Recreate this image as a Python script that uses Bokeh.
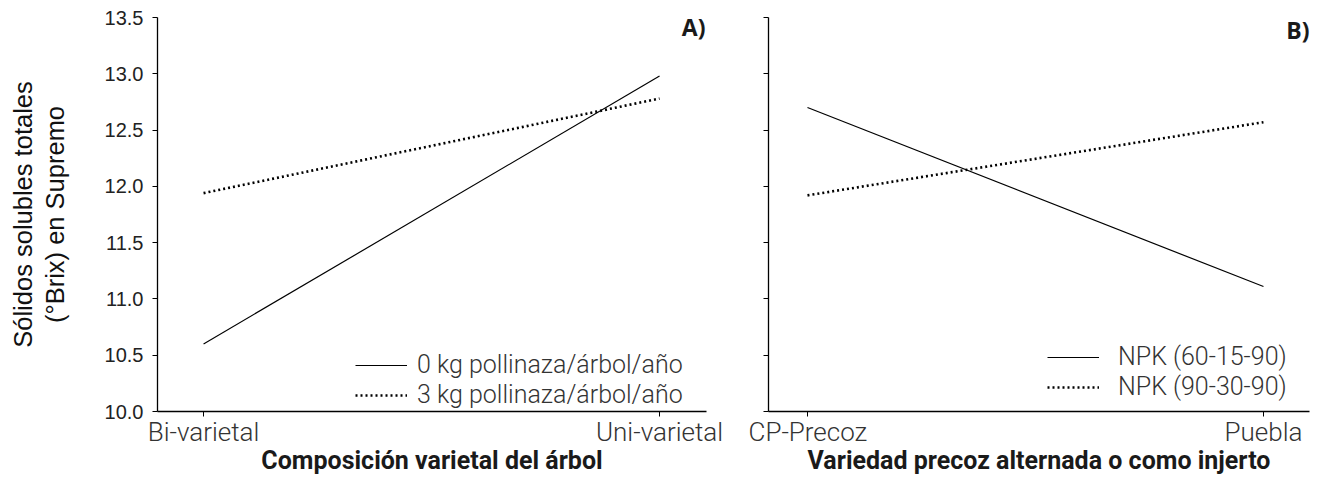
from bokeh.plotting import figure
from bokeh.layouts import row
from bokeh.models import Range1d, FixedTicker, Legend, LegendItem, Label, NumeralTickFormatter
from bokeh.embed import file_html
from bokeh.resources import INLINE

# ---- data ----
cats_a = ["Bi-varietal", "Uni-varietal"]
a_0kg = [10.60, 12.98]
a_3kg = [11.94, 12.78]
a_names = ["0 kg pollinaza/árbol/año", "3 kg pollinaza/árbol/año"]

cats_b = ["CP-Precoz", "Puebla"]
b_npk1 = [12.70, 11.11]
b_npk2 = [11.92, 12.57]
b_names = ["NPK (60-15-90)", "NPK (90-30-90)"]

y_ticks = [10.0, 10.5, 11.0, 11.5, 12.0, 12.5, 13.0, 13.5]

TICK_FONT = "Roboto Light"


def panel(cats, s1, s2, names, xlabel, tag, width, bl, br, xr, show_ylab,
          leg_xy, leg_standoff, tag_dx, tag_dy):
    xs = list(range(len(cats)))
    p = figure(width=width, height=477, output_backend="svg", toolbar_location=None,
               x_range=Range1d(*xr), y_range=Range1d(y_ticks[0], y_ticks[-1]),
               min_border_left=bl, min_border_right=br, min_border_top=17,
               min_border_bottom=66)
    p.outline_line_color = None
    p.grid.visible = False
    p.background_fill_color = "white"
    p.border_fill_color = "white"

    r1 = p.line(xs, s1, line_color="black", line_width=1.2)
    r2 = p.line(xs, s2, line_color="black", line_width=2.6, line_dash="2 3")

    xa = p.xaxis[0]
    xa.ticker = FixedTicker(ticks=xs)
    xa.major_label_overrides = {i: c for i, c in zip(xs, cats)}
    xa.minor_tick_line_color = None
    xa.major_tick_in = 0
    xa.major_tick_out = 5
    xa.axis_line_width = 1.3
    xa.major_label_text_font = TICK_FONT
    xa.major_label_text_font_size = "26px"
    xa.major_label_text_color = "#333333"
    xa.major_label_standoff = 0
    xa.axis_label = xlabel
    xa.axis_label_text_font = "Roboto"
    xa.axis_label_text_font_style = "bold"
    xa.axis_label_text_font_size = "25px"
    xa.axis_label_text_color = "#1a1a1a"
    xa.axis_label_standoff = -4

    ya = p.yaxis[0]
    ya.ticker = FixedTicker(ticks=y_ticks)
    ya.minor_tick_line_color = None
    ya.major_tick_in = 0
    ya.major_tick_out = 5
    ya.axis_line_width = 1.3
    if show_ylab:
        ya.formatter = NumeralTickFormatter(format="0.0")
        ya.major_label_text_font = "Liberation Sans"
        ya.major_label_text_font_size = "20px"
        ya.major_label_text_color = "#222222"
        ya.major_label_standoff = 9
        ya.axis_label = "Sólidos solubles totales\n(°Brix) en Supremo"
        ya.axis_label_text_font = "Liberation Sans"
        ya.axis_label_text_font_style = "normal"
        ya.axis_label_text_font_size = "25.5px"
        ya.axis_label_text_line_height = 1.12
        ya.axis_label_text_color = "#111111"
        ya.axis_label_standoff = 33
    else:
        ya.major_label_overrides = {t: "" for t in y_ticks}

    legend = Legend(items=[LegendItem(label=names[0], renderers=[r1]),
                           LegendItem(label=names[1], renderers=[r2])],
                    location=leg_xy, orientation="vertical")
    legend.background_fill_alpha = 0
    legend.border_line_color = None
    legend.padding = 0
    legend.margin = 0
    legend.spacing = 1
    legend.glyph_width = 52
    legend.glyph_height = 28
    legend.label_height = 28
    legend.label_standoff = leg_standoff
    legend.label_text_font = TICK_FONT
    legend.label_text_font_size = "25px"
    legend.label_text_color = "#333333"
    p.add_layout(legend, "center")

    lab = Label(x=xr[1], y=y_ticks[-1], text=tag, text_align="right",
                text_baseline="top", text_font="Open Sans", text_font_style="bold",
                text_font_size="23px", text_color="#1a1a1a",
                x_offset=tag_dx, y_offset=tag_dy)
    p.add_layout(lab)
    return p


pa = panel(cats_a, a_0kg, a_3kg, a_names, "Composición varietal del árbol", "A)",
           748, 157, 42, (-0.101, 1.103), True, (198, 2), 10, -1, 7)
pb = panel(cats_b, b_npk1, b_npk2, b_names, "Variedad precoz alternada o como injerto", "B)",
           577, 20, 16, (-0.0855, 1.101), False, (279, 10), 19, 0, 4)

layout = row(pa, pb, spacing=0)
open("out.html", "w").write(file_html(layout, INLINE))
